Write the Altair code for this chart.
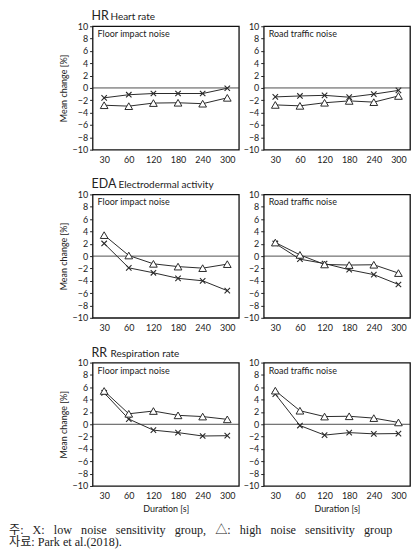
import altair as alt
import pandas as pd

durations = ["30", "60", "120", "180", "240", "300"]

hr_floor_low = [-1.6, -1.1, -0.9, -0.9, -0.9, -0.05]
hr_floor_high = [-2.8, -2.95, -2.45, -2.4, -2.55, -1.6]
hr_road_low = [-1.45, -1.3, -1.2, -1.5, -1.0, -0.4]
hr_road_high = [-2.75, -2.9, -2.4, -2.1, -2.3, -1.3]
eda_floor_low = [2.05, -1.9, -2.7, -3.6, -4.0, -5.6]
eda_floor_high = [3.4, 0.1, -1.25, -1.7, -1.95, -1.3]
eda_road_low = [2.05, -0.5, -1.2, -2.2, -3.0, -4.6]
eda_road_high = [2.2, 0.2, -1.35, -1.45, -1.4, -2.75]
rr_floor_low = [5.1, 0.85, -0.95, -1.35, -1.9, -1.85]
rr_floor_high = [5.4, 1.7, 2.15, 1.45, 1.25, 0.8]
rr_road_low = [4.9, -0.2, -1.75, -1.35, -1.55, -1.5]
rr_road_high = [5.45, 2.2, 1.25, 1.3, 1.0, 0.3]

y_ticks = [-10, -8, -6, -4, -2, 0, 2, 4, 6, 8, 10]
titles = [("HR", "Heart rate", 18), ("EDA", "Electrodermal activity", 26), ("RR", "Respiration rate", 18)]
noise_labels = ["Floor impact noise", "Road traffic noise"]
GAP = "\u00a0\u00a0 "
footnote_lines = [GAP.join(["주:", "X:", "low", "noise", "sensitivity", "group,", "△:", "high",
                            "noise", "sensitivity", "group"]),
                  "자료: Park et al.(2018)."]

W, H = 147, 124
FONT = "Lato"
INK = "#2a2a2a"
XPATH = "M-1,-1L1,1M-1,1L1,-1"


def panel(low, high, noise, title=None, ytitle=False, xtitle=False, footnote=False):
    df = pd.DataFrame({
        "duration": durations * 2,
        "value": low + high,
        "group": ["low"] * 6 + ["high"] * 6,
    })
    base = alt.Chart(df)
    x = alt.X("duration:N", sort=durations,
              scale=alt.Scale(type="point", domain=durations, padding=0.47),
              axis=alt.Axis(title="Duration [s]" if xtitle else None, ticks=False, domain=False,
                            labelAngle=0, labelPadding=6, labelFontSize=9, labelFont=FONT,
                            labelColor="#222", titleFont=FONT, titleFontSize=9,
                            titleFontWeight="normal", titleColor="#222", titlePadding=4, grid=False))
    y = alt.Y("value:Q", scale=alt.Scale(domain=[-10, 10], nice=False, zero=False),
              axis=alt.Axis(values=y_ticks, tickCount=11,
                            title="Mean change [%]" if ytitle else None,
                            domain=False, grid=False, tickSize=3, tickColor="#222",
                            labelOverlap=False, labelFlush=False,
                            labelFontSize=9, labelFont=FONT, labelColor="#222", labelPadding=2,
                            titleFont=FONT, titleFontSize=9, titleFontWeight="normal",
                            titleColor="#222", titlePadding=4))
    zero = alt.Chart(pd.DataFrame({"value": [0]})).mark_rule(color="#222", strokeWidth=0.8).encode(y=y)
    lines = base.mark_line(color=INK, strokeWidth=1).encode(x=x, y=y, detail="group:N")
    pts_low = base.transform_filter(alt.datum.group == "low").mark_point(
        shape=XPATH, size=30, filled=False, color=INK, strokeWidth=1.1, opacity=1).encode(x=x, y=y)
    pts_high = base.transform_filter(alt.datum.group == "high").mark_point(
        shape="triangle-up", size=60, filled=True, fill="white", stroke=INK, strokeWidth=1,
        opacity=1).encode(x=x, y=y)
    lab = alt.Chart(pd.DataFrame({"t": [noise]})).mark_text(
        align="left", baseline="middle", fontSize=9, font=FONT, color="#222").encode(
        x=alt.value(5), y=alt.value(8), text="t:N")
    layers = [zero, lines, pts_low, pts_high, lab]
    if title:
        abbr, full, off = title
        layers.append(alt.Chart(pd.DataFrame({"t": [abbr]})).mark_text(
            align="left", baseline="alphabetic", fontSize=12.5, font=FONT, color="#222").encode(
            x=alt.value(-1), y=alt.value(-6), text="t:N"))
        layers.append(alt.Chart(pd.DataFrame({"t": [full]})).mark_text(
            align="left", baseline="alphabetic", fontSize=10, font=FONT, color="#222").encode(
            x=alt.value(off), y=alt.value(-6), text="t:N"))
    if footnote:
        for i, line in enumerate(footnote_lines):
            layers.append(alt.Chart(pd.DataFrame({"t": [line]})).mark_text(
                align="left", baseline="middle", fontSize=12.2,
                font="Liberation Serif, 'Noto Sans CJK KR'", color="#222").encode(
                x=alt.value(-84), y=alt.value(H + 44 + 12.5 * i), text="t:N"))
    return alt.layer(*layers).properties(width=W, height=H)


charts = [
    panel(hr_floor_low, hr_floor_high, noise_labels[0], title=titles[0], ytitle=True),
    panel(hr_road_low, hr_road_high, noise_labels[1]),
    panel(eda_floor_low, eda_floor_high, noise_labels[0], title=titles[1], ytitle=True),
    panel(eda_road_low, eda_road_high, noise_labels[1]),
    panel(rr_floor_low, rr_floor_high, noise_labels[0], title=titles[2], ytitle=True, xtitle=True, footnote=True),
    panel(rr_road_low, rr_road_high, noise_labels[1], xtitle=True),
]

chart = alt.concat(*charts, columns=2, spacing={"row": 45, "column": 25}).properties(
    bounds="flush", padding={"left": 0, "top": 0, "right": 0, "bottom": 0}
).configure(
    background="white",
    view=alt.ViewConfig(stroke="#111111", strokeWidth=1.3),
)

chart.save("out.html", embed_options={"renderer": "svg", "actions": False})
